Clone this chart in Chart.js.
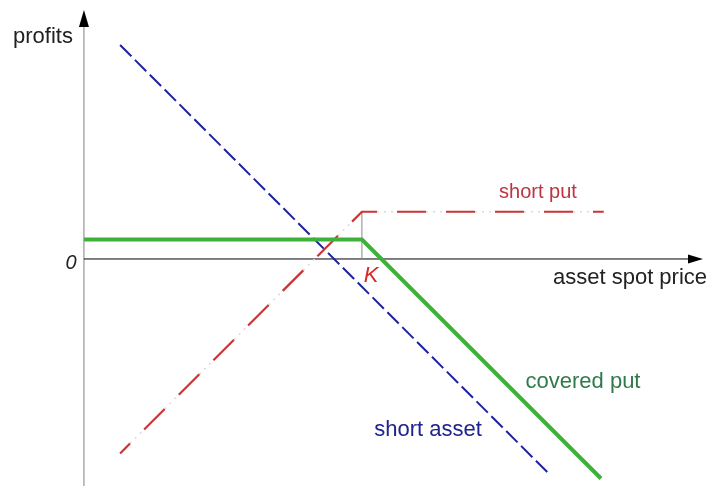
<!DOCTYPE html>
<html>
<head>
<meta charset="utf-8">
<script src="https://cdn.jsdelivr.net/npm/chart.js@4/dist/chart.umd.min.js"></script>
<style>
  body { margin: 0; background: #fff; }
  #wrap { width: 713px; height: 486px; position: relative; }
</style>
</head>
<body>
<div id="wrap"><canvas id="payoff-chart"></canvas></div>
<script>
// spot price (K = 100) and profit values
const strike = 100;
const shortAssetX = [13, 167];
const shortAssetY = [77, -77];
const shortPutX = [13, 100, 187];
const shortPutY = [-70, 17, 17];
const coveredPutX = [0, 100, 186];
const coveredPutY = [7, 7, -79];
const strikeLineX = [strike, strike];
const strikeLineY = [0, 17];

const toPoints = (xs, ys) => xs.map((x, i) => ({ x: x, y: ys[i] }));

const font = '"Liberation Sans", Arial, sans-serif';

const axesAndLabels = {
  id: 'axesAndLabels',
  beforeDatasetsDraw(chart) {
    const { ctx, scales } = chart;
    const x0 = scales.x.getPixelForValue(0);
    const y0 = scales.y.getPixelForValue(0);
    ctx.save();
    // y axis
    ctx.strokeStyle = '#808080';
    ctx.lineWidth = 1;
    ctx.beginPath();
    ctx.moveTo(x0, chart.height);
    ctx.lineTo(x0, 22);
    ctx.stroke();
    ctx.fillStyle = '#000';
    ctx.beginPath();
    ctx.moveTo(x0, 10);
    ctx.lineTo(x0 - 5, 27);
    ctx.lineTo(x0 + 5, 27);
    ctx.closePath();
    ctx.fill();
    // x axis
    ctx.strokeStyle = '#000';
    ctx.beginPath();
    ctx.moveTo(x0, y0);
    ctx.lineTo(692, y0);
    ctx.stroke();
    ctx.beginPath();
    ctx.moveTo(703, y0);
    ctx.lineTo(688, y0 - 4.5);
    ctx.lineTo(688, y0 + 4.5);
    ctx.closePath();
    ctx.fill();
    ctx.restore();
  },
  afterDatasetsDraw(chart) {
    const { ctx } = chart;
    ctx.save();
    ctx.textAlign = 'center';
    ctx.textBaseline = 'alphabetic';
    const label = (text, x, y, color, size, italic) => {
      ctx.font = (italic ? 'italic ' : '') + size + 'px ' + font;
      ctx.fillStyle = color;
      ctx.fillText(text, x, y);
    };
    label('profits', 43, 43, '#222', 22, false);
    label('0', 71, 269, '#222', 20, true);
    label('asset spot price', 630, 284, '#222', 22, false);
    label('K', 371, 282, '#d42a2a', 22, true);
    label('short put', 538, 198, '#bf3340', 20, false);
    label('covered put', 583, 388, '#2f7a48', 22, false);
    label('short asset', 428, 436, '#1f228f', 22, false);
    ctx.restore();
  }
};

new Chart(document.getElementById('payoff-chart').getContext('2d'), {
  type: 'line',
  data: {
    datasets: [
      {
        label: 'covered put',
        data: toPoints(coveredPutX, coveredPutY),
        borderColor: '#3db23a',
        borderWidth: 4,
        order: 0,
      },
      {
        label: 'short put',
        data: toPoints(shortPutX, shortPutY),
        borderColor: '#cc3535',
        borderWidth: 2.2,
        borderDash: [29, 20],
        borderDashOffset: 15,
        order: 1,
      },
      {
        // faint dots showing through the gaps of the short put line
        label: 'short put dots',
        data: toPoints(shortPutX, shortPutY),
        borderColor: '#e2d6d6',
        borderWidth: 1.5,
        borderDash: [2, 5],
        order: 2,
      },
      {
        label: 'short asset',
        data: toPoints(shortAssetX, shortAssetY),
        borderColor: '#1e22a0',
        borderWidth: 2,
        borderDash: [16, 5],
        order: 3,
      },
      {
        label: 'K',
        data: toPoints(strikeLineX, strikeLineY),
        borderColor: '#8a8a8a',
        borderWidth: 1,
        order: 4,
      },
    ],
  },
  options: {
    responsive: true,
    maintainAspectRatio: false,
    animation: false,
    layout: { padding: 0 },
    elements: {
      point: { radius: 0 },
      line: { tension: 0, fill: false },
    },
    plugins: {
      legend: { display: false },
      tooltip: { enabled: false },
    },
    scales: {
      x: { type: 'linear', min: -30.2, max: 226.3, display: false },
      y: { type: 'linear', min: -81.7, max: 93.2, display: false },
    },
  },
  plugins: [axesAndLabels],
});
</script>
</body>
</html>
